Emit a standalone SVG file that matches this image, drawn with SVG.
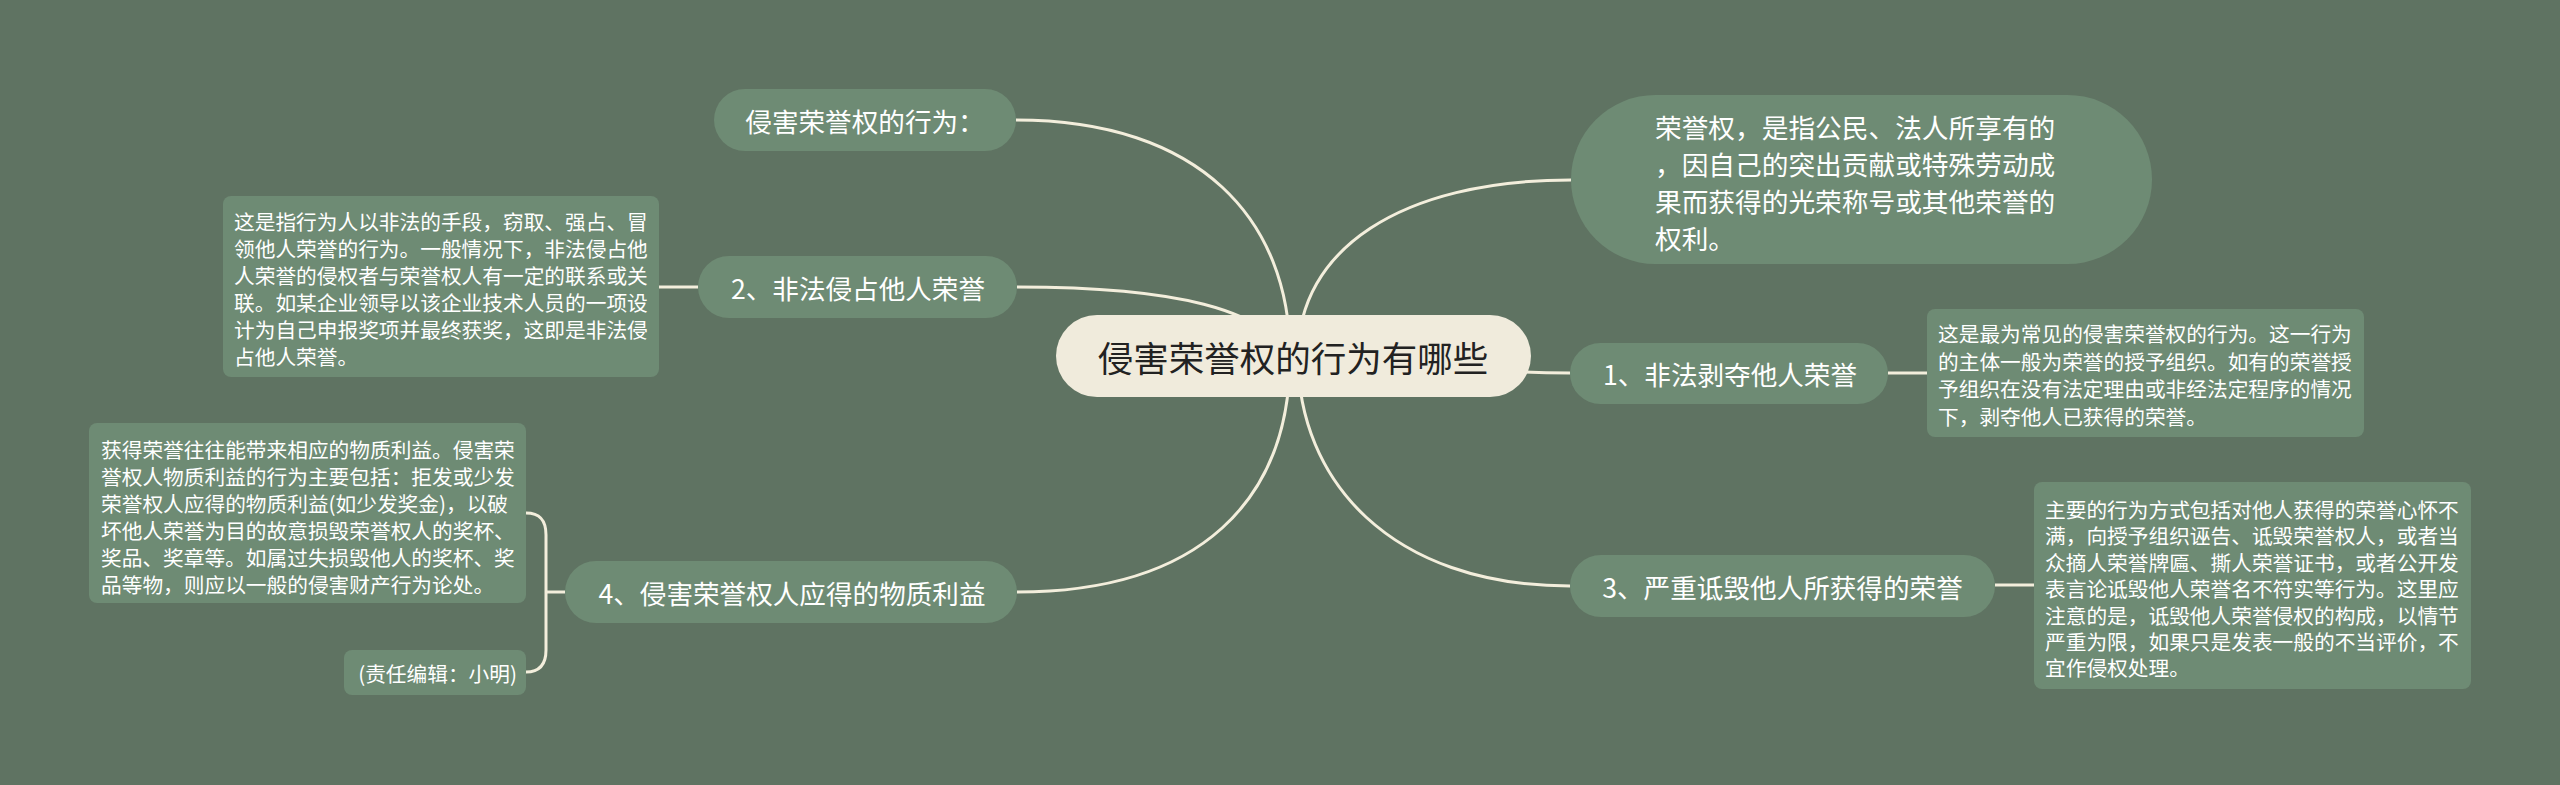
<svg xmlns="http://www.w3.org/2000/svg" width="2560" height="785" viewBox="0 0 2560 785">
<style>
.bg{fill:#5f7362}
.node{fill:#6e8b74}
.root{fill:#f0ebdc}
.link{fill:none;stroke:#f3eedc;stroke-width:3}
.t{font-family:"Noto Sans CJK SC","Noto Sans",sans-serif;fill:#ffffff}
.b{font-size:26.6px;text-anchor:middle;dominant-baseline:central}
.d{font-size:20.7px;dominant-baseline:central}
.r{font-family:"Noto Sans CJK SC","Noto Sans",sans-serif;fill:#222222;font-size:35.5px;text-anchor:middle;dominant-baseline:central}
</style>
<rect class="bg" x="0" y="0" width="2560" height="785"/>
<g id="connectors">
<path class="link" d="M1016,120 C1200,120 1290,220 1290,356"/>
<path class="link" d="M1017,287 C1180,287 1260,310 1293,356"/>
<path class="link" d="M1017,592 C1200,592 1290,500 1290,356"/>
<path class="link" d="M1571,180 C1400,180 1298,250 1298,356"/>
<path class="link" d="M1570,586 C1390,586 1298,480 1298,356"/>
<path class="link" d="M1293,356 C1450,356 1450,373 1570,373"/>
<path class="link" d="M1888,373 L1927,373"/>
<path class="link" d="M1995,585 L2034,585"/>
<path class="link" d="M659,287 L698,287"/>
<path class="link" d="M526,513 C540,513 546,520 546,535 L546,650 C546,664 540,672 526,672"/>
<path class="link" d="M546,592 L565,592"/>
</g>
<g id="root">
<rect class="root" x="1056" y="315" width="475" height="82" rx="41"/>
<text class="r" x="1293" y="356">侵害荣誉权的行为有哪些</text>
</g>
<g id="n-def">
<rect class="node" x="1571" y="95" width="581" height="169" rx="84.5"/>
<text class="t" x="1655" font-size="26.7" dominant-baseline="central">
<tspan x="1655" y="126">荣誉权，是指公民、法人所享有的</tspan>
<tspan x="1655" y="163">，因自己的突出贡献或特殊劳动成</tspan>
<tspan x="1655" y="200">果而获得的光荣称号或其他荣誉的</tspan>
<tspan x="1655" y="237">权利。</tspan>
</text>
</g>
<g id="n-acts">
<rect class="node" x="714" y="89" width="302" height="62" rx="31"/>
<text class="t b" x="865" y="120">侵害荣誉权的行为：</text>
</g>
<g id="n2">
<rect class="node" x="698" y="256" width="319" height="62" rx="31"/>
<text class="t b" x="858" y="287">2、非法侵占他人荣誉</text>
</g>
<g id="n2-detail">
<rect class="node" x="223" y="196" width="436" height="181" rx="8"/>
<text class="t d">
<tspan x="234" y="221">这是指行为人以非法的手段，窃取、强占、冒</tspan>
<tspan x="234" y="248">领他人荣誉的行为。一般情况下，非法侵占他</tspan>
<tspan x="234" y="275">人荣誉的侵权者与荣誉权人有一定的联系或关</tspan>
<tspan x="234" y="302">联。如某企业领导以该企业技术人员的一项设</tspan>
<tspan x="234" y="329">计为自己申报奖项并最终获奖，这即是非法侵</tspan>
<tspan x="234" y="356">占他人荣誉。</tspan>
</text>
</g>
<g id="n4">
<rect class="node" x="565" y="561" width="452" height="62" rx="31"/>
<text class="t b" x="792" y="592">4、侵害荣誉权人应得的物质利益</text>
</g>
<g id="n4-detail">
<rect class="node" x="89" y="423" width="437" height="180" rx="8"/>
<text class="t d">
<tspan x="101" y="449">获得荣誉往往能带来相应的物质利益。侵害荣</tspan>
<tspan x="101" y="476">誉权人物质利益的行为主要包括：拒发或少发</tspan>
<tspan x="101" y="503">荣誉权人应得的物质利益(如少发奖金)，以破</tspan>
<tspan x="101" y="530">坏他人荣誉为目的故意损毁荣誉权人的奖杯、</tspan>
<tspan x="101" y="557">奖品、奖章等。如属过失损毁他人的奖杯、奖</tspan>
<tspan x="101" y="584">品等物，则应以一般的侵害财产行为论处。</tspan>
</text>
</g>
<g id="n4-editor">
<rect class="node" x="344" y="650" width="182" height="45" rx="8"/>
<text class="t d" x="517" y="673" text-anchor="end">(责任编辑：小明)</text>
</g>
<g id="n1">
<rect class="node" x="1570" y="343" width="318" height="61" rx="30.5"/>
<text class="t b" x="1730" y="373">1、非法剥夺他人荣誉</text>
</g>
<g id="n1-detail">
<rect class="node" x="1927" y="309" width="437" height="128" rx="8"/>
<text class="t d">
<tspan x="1938" y="333">这是最为常见的侵害荣誉权的行为。这一行为</tspan>
<tspan x="1938" y="360.5">的主体一般为荣誉的授予组织。如有的荣誉授</tspan>
<tspan x="1938" y="388">予组织在没有法定理由或非经法定程序的情况</tspan>
<tspan x="1938" y="415.5">下，剥夺他人已获得的荣誉。</tspan>
</text>
</g>
<g id="n3">
<rect class="node" x="1570" y="555" width="425" height="62" rx="31"/>
<text class="t b" x="1782.5" y="586">3、严重诋毁他人所获得的荣誉</text>
</g>
<g id="n3-detail">
<rect class="node" x="2034" y="482" width="437" height="207" rx="8"/>
<text class="t d">
<tspan x="2045" y="509">主要的行为方式包括对他人获得的荣誉心怀不</tspan>
<tspan x="2045" y="535.4">满，向授予组织诬告、诋毁荣誉权人，或者当</tspan>
<tspan x="2045" y="561.8">众摘人荣誉牌匾、撕人荣誉证书，或者公开发</tspan>
<tspan x="2045" y="588.2">表言论诋毁他人荣誉名不符实等行为。这里应</tspan>
<tspan x="2045" y="614.6">注意的是，诋毁他人荣誉侵权的构成，以情节</tspan>
<tspan x="2045" y="641">严重为限，如果只是发表一般的不当评价，不</tspan>
<tspan x="2045" y="667.4">宜作侵权处理。</tspan>
</text>
</g>
</svg>
